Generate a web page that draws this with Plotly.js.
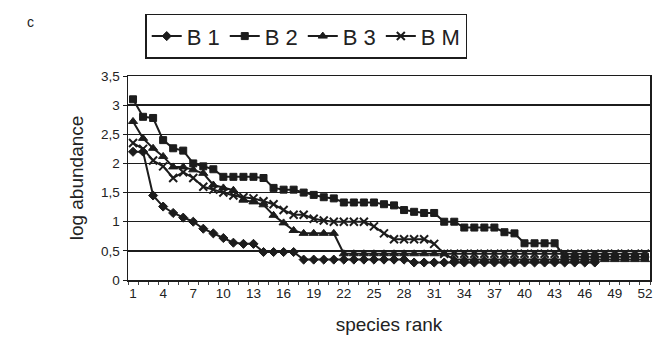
<!DOCTYPE html>
<html>
<head>
<meta charset="utf-8">
<script src="https://cdn.plot.ly/plotly-3.0.1.min.js"></script>
<style>html,body{margin:0;padding:0;background:#fff;}#chart{width:659px;height:342px;}</style>
</head>
<body>
<div id="chart"></div>
<script>
// species rank 1..52
const rankB1 = Array.from({length: 47}, (_, i) => i + 1);
const rankB2 = Array.from({length: 52}, (_, i) => i + 1);
const rankB3 = Array.from({length: 52}, (_, i) => i + 1);
const rankBM = Array.from({length: 52}, (_, i) => i + 1);

const B1 = [2.2, 2.2, 1.45, 1.26, 1.15, 1.07, 1.0, 0.88, 0.8, 0.72,
            0.64, 0.62, 0.62, 0.48, 0.48, 0.48, 0.48, 0.35, 0.35, 0.35,
            0.35, 0.35, 0.35, 0.35, 0.35, 0.35, 0.35, 0.35, 0.3, 0.3,
            0.3, 0.3, 0.3, 0.3, 0.3, 0.3, 0.3, 0.3, 0.3, 0.3,
            0.3, 0.3, 0.3, 0.3, 0.3, 0.3, 0.3];
const B2 = [3.1, 2.8, 2.78, 2.4, 2.26, 2.22, 2.0, 1.95, 1.9, 1.77,
            1.77, 1.77, 1.77, 1.75, 1.58, 1.55, 1.55, 1.5, 1.46, 1.42,
            1.4, 1.33, 1.33, 1.33, 1.33, 1.3, 1.28, 1.2, 1.17, 1.15,
            1.15, 1.0, 1.0, 0.9, 0.9, 0.9, 0.9, 0.82, 0.8, 0.63,
            0.63, 0.63, 0.63, 0.4, 0.4, 0.4, 0.4, 0.4, 0.4, 0.4,
            0.4, 0.4];
const B3 = [2.72, 2.43, 2.26, 2.12, 1.94, 1.94, 1.89, 1.83, 1.63, 1.58,
            1.54, 1.37, 1.34, 1.29, 1.11, 0.98, 0.85, 0.8, 0.8, 0.8,
            0.8, 0.45, 0.45, 0.45, 0.45, 0.45, 0.45, 0.45, 0.45, 0.45,
            0.45, 0.45, 0.35, 0.35, 0.35, 0.35, 0.35, 0.35, 0.35, 0.35,
            0.35, 0.35, 0.35, 0.35, 0.35, 0.35, 0.35, 0.35, 0.35, 0.35,
            0.35, 0.35];
const BM = [2.35, 2.25, 2.05, 1.95, 1.75, 1.85, 1.75, 1.6, 1.55, 1.5,
            1.45, 1.42, 1.4, 1.35, 1.3, 1.2, 1.12, 1.12, 1.05, 1.02,
            1.0, 1.0, 1.0, 1.0, 0.92, 0.8, 0.7, 0.7, 0.7, 0.7,
            0.62, 0.45, 0.45, 0.45, 0.45, 0.45, 0.45, 0.45, 0.45, 0.45,
            0.45, 0.45, 0.45, 0.45, 0.45, 0.45, 0.45, 0.45, 0.45, 0.45,
            0.45, 0.45];

const xTickVals = [1, 4, 7, 10, 13, 16, 19, 22, 25, 28, 31, 34, 37, 40, 43, 46, 49, 52];
const yTickVals = [0, 0.5, 1, 1.5, 2, 2.5, 3, 3.5];
const yTickText = ["0", "0,5", "1", "1,5", "2", "2,5", "3", "3,5"];

const ink = '#1c1c1c';
function tr(name, x, y, symbol, size) {
  return {
    type: 'scatter', mode: 'lines+markers', name: name, x: x, y: y,
    line: {color: ink, width: 2},
    marker: {symbol: symbol, size: size, color: ink, line: {color: ink, width: 1}}
  };
}
const data = [
  tr('B 1', rankB1, B1, 'diamond', 7),
  tr('B 2', rankB2, B2, 'square', 7),
  tr('B 3', rankB3, B3, 'triangle-up', 8),
  tr('B M', rankBM, BM, 'x-thin-open', 8)
];
data[3].marker.line = {color: ink, width: 2};

const layout = {
  width: 659, height: 342,
  margin: {l: 128, r: 9, t: 76, b: 62},
  paper_bgcolor: '#fff', plot_bgcolor: '#fff',
  font: {family: 'Liberation Sans, Arial, sans-serif', color: '#222', size: 13},
  showlegend: true,
  legend: {
    orientation: 'h', x: 0.033, xanchor: 'left', y: 1.305, yanchor: 'top',
    bordercolor: ink, borderwidth: 1.5, font: {size: 22, color: '#222'},
    itemwidth: 30, tracegroupgap: 0
  },
  xaxis: {
    range: [0.5, 52.5], tickmode: 'array', tickvals: xTickVals,
    ticks: '', showgrid: false, zeroline: false,
    showline: true, linecolor: ink, linewidth: 1.5, mirror: true,
    minor: {dtick: 1, tick0: 0.5, ticks: 'outside', ticklen: 3, tickcolor: '#444', showgrid: false},
    tickfont: {size: 13.5},
    title: {text: 'species rank', font: {size: 19, color: '#222'}, standoff: 18}
  },
  yaxis: {
    range: [0, 3.5], tickmode: 'array', tickvals: yTickVals, ticktext: yTickText,
    ticks: 'outside', ticklen: 4, tickcolor: ink,
    showgrid: true, gridcolor: ink, gridwidth: 1.5, zeroline: false,
    showline: true, linecolor: ink, linewidth: 1.5, mirror: true,
    tickfont: {size: 13.5},
    title: {text: 'log abundance', font: {size: 19, color: '#222'}, standoff: 12}
  },
  annotations: [{
    text: 'c', xref: 'paper', yref: 'paper', x: -0.186, y: 1.265,
    xanchor: 'center', yanchor: 'middle', showarrow: false, font: {size: 14, color: '#222'}
  }]
};

Plotly.newPlot('chart', data, layout, {displayModeBar: false, staticPlot: true});
</script>
</body>
</html>
